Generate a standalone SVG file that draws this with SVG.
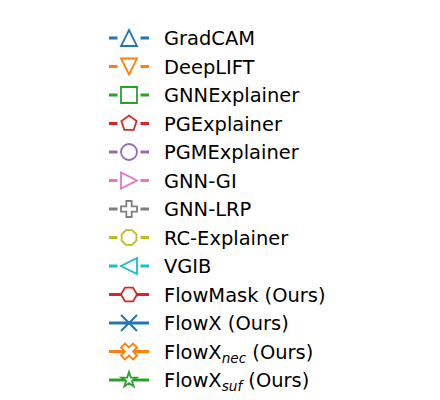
<svg xmlns="http://www.w3.org/2000/svg" xmlns:xlink="http://www.w3.org/1999/xlink" width="440" height="400" viewBox="0 0 440 400">
<style>
.bg{fill:#ffffff}
.ln{fill:none;stroke-width:2.8}
.dash{stroke-dasharray:8.5 23 8.5}
.mk{fill:#ffffff;stroke-width:1.8;stroke-linejoin:miter}
.lbl{font-family:"DejaVu Sans","Liberation Sans",sans-serif;font-size:19.44px;fill:#000000}
.sub{font-family:"DejaVu Sans","Liberation Sans",sans-serif;font-style:italic;font-size:13.6px}
.c0{stroke:#1f77b4}.c1{stroke:#ff7f0e}.c2{stroke:#2ca02c}.c3{stroke:#d62728}.c4{stroke:#9467bd}
.c5{stroke:#e377c2}.c6{stroke:#7f7f7f}.c7{stroke:#bcbd22}.c8{stroke:#17becf}
</style>
<defs>
<path id="triU" d="M0,-8 L8,8 L-8,8 Z"/>
<path id="triD" d="M0,8 L8,-8 L-8,-8 Z"/>
<path id="triR" d="M8,0 L-8,-8 L-8,8 Z"/>
<path id="triL" d="M-8,0 L8,-8 L8,8 Z"/>
<path id="sq" d="M-8,-8 H8 V8 H-8 Z"/>
<path id="pent" d="M0,-8 L7.61,-2.47 L4.7,6.47 L-4.7,6.47 L-7.61,-2.47 Z"/>
<circle id="circ" r="8"/>
<path id="plus" d="M-2.67,-8 H2.67 V-2.67 H8 V2.67 H2.67 V8 H-2.67 V2.67 H-8 V-2.67 H-2.67 Z"/>
<path id="oct" d="M7.39,3.06 L3.06,7.39 L-3.06,7.39 L-7.39,3.06 L-7.39,-3.06 L-3.06,-7.39 L3.06,-7.39 L7.39,-3.06 Z"/>
<path id="hex" d="M8,0 L4,6.93 L-4,6.93 L-8,0 L-4,-6.93 L4,-6.93 Z"/>
<path id="xl" d="M-8,-8 L8,8 M-8,8 L8,-8"/>
<path id="xf" d="M-4,-8 L0,-4 L4,-8 L8,-4 L4,0 L8,4 L4,8 L0,4 L-4,8 L-8,4 L-4,0 L-8,-4 Z"/>
<path id="star" d="M0,-8 L1.8,-2.47 L7.61,-2.47 L2.91,0.95 L4.7,6.47 L0,3.06 L-4.7,6.47 L-2.91,0.95 L-7.61,-2.47 L-1.8,-2.47 Z"/>
</defs>
<rect class="bg" x="0" y="0" width="440" height="400"/>
<g id="connectors"/>
<g id="gradcam" transform="translate(129,38)">
<line class="ln dash c0" x1="-20" y1="0" x2="20" y2="0"/>
<use class="mk c0" xlink:href="#triU" href="#triU"/>
<text class="lbl" x="35" y="7">GradCAM</text>
</g>
<g id="deeplift" transform="translate(129,66.5)">
<line class="ln dash c1" x1="-20" y1="0" x2="20" y2="0"/>
<use class="mk c1" xlink:href="#triD" href="#triD"/>
<text class="lbl" x="35" y="7">DeepLIFT</text>
</g>
<g id="gnnexplainer" transform="translate(129,95)">
<line class="ln dash c2" x1="-20" y1="0" x2="20" y2="0"/>
<use class="mk c2" xlink:href="#sq" href="#sq"/>
<text class="lbl" x="35" y="7">GNNExplainer</text>
</g>
<g id="pgexplainer" transform="translate(129,123.5)">
<line class="ln dash c3" x1="-20" y1="0" x2="20" y2="0"/>
<use class="mk c3" xlink:href="#pent" href="#pent"/>
<text class="lbl" x="35" y="7">PGExplainer</text>
</g>
<g id="pgmexplainer" transform="translate(129,152)">
<line class="ln dash c4" x1="-20" y1="0" x2="20" y2="0"/>
<use class="mk c4" xlink:href="#circ" href="#circ"/>
<text class="lbl" x="35" y="7">PGMExplainer</text>
</g>
<g id="gnngi" transform="translate(129,180.5)">
<line class="ln dash c5" x1="-20" y1="0" x2="20" y2="0"/>
<use class="mk c5" xlink:href="#triR" href="#triR"/>
<text class="lbl" x="35" y="7">GNN-GI</text>
</g>
<g id="gnnlrp" transform="translate(129,209)">
<line class="ln dash c6" x1="-20" y1="0" x2="20" y2="0"/>
<use class="mk c6" xlink:href="#plus" href="#plus"/>
<text class="lbl" x="35" y="7">GNN-LRP</text>
</g>
<g id="rcexplainer" transform="translate(129,237.5)">
<line class="ln dash c7" x1="-20" y1="0" x2="20" y2="0"/>
<use class="mk c7" xlink:href="#oct" href="#oct"/>
<text class="lbl" x="35" y="7">RC-Explainer</text>
</g>
<g id="vgib" transform="translate(129,266)">
<line class="ln dash c8" x1="-20" y1="0" x2="20" y2="0"/>
<use class="mk c8" xlink:href="#triL" href="#triL"/>
<text class="lbl" x="35" y="7">VGIB</text>
</g>
<g id="flowmask" transform="translate(129,294.5)">
<line class="ln c3" x1="-20" y1="0" x2="20" y2="0"/>
<use class="mk c3" xlink:href="#hex" href="#hex"/>
<text class="lbl" x="35" y="7">FlowMask (Ours)</text>
</g>
<g id="flowx" transform="translate(129,323)">
<line class="ln c0" x1="-20" y1="0" x2="20" y2="0"/>
<use class="mk c0" style="fill:none;stroke-width:2" xlink:href="#xl" href="#xl"/>
<text class="lbl" x="35" y="7">FlowX (Ours)</text>
</g>
<g id="flowxnec" transform="translate(129,351.5)">
<line class="ln c1" x1="-20" y1="0" x2="20" y2="0"/>
<use class="mk c1" xlink:href="#xf" href="#xf"/>
<text class="lbl" x="35" y="7">FlowX<tspan class="sub" dy="4">nec</tspan><tspan dy="-4"> (Ours)</tspan></text>
</g>
<g id="flowxsuf" transform="translate(129,380)">
<line class="ln c2" x1="-20" y1="0" x2="20" y2="0"/>
<use class="mk c2" xlink:href="#star" href="#star"/>
<text class="lbl" x="35" y="7">FlowX<tspan class="sub" dy="4">suf</tspan><tspan dy="-4"> (Ours)</tspan></text>
</g>
</svg>
